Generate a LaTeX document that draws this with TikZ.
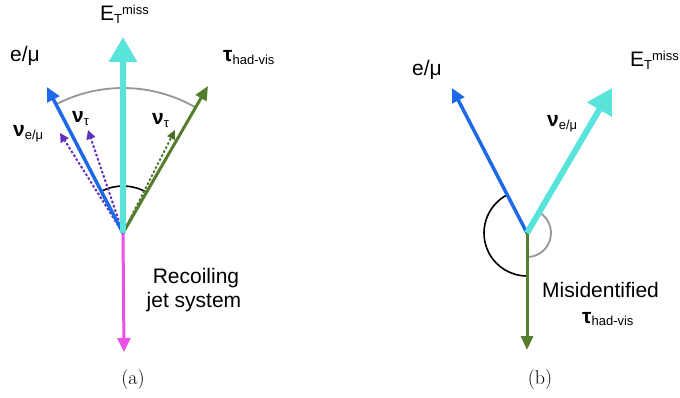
\documentclass[tikz,border=0pt]{standalone}
\usepackage{fontspec}
\newfontfamily\lsans{Liberation Sans}
\usetikzlibrary{arrows.meta}
\definecolor{vblue}{RGB}{30,105,230}
\definecolor{vgreen}{RGB}{85,125,45}
\definecolor{vcyan}{RGB}{88,228,218}
\definecolor{vpink}{RGB}{235,80,232}
\definecolor{vpurple}{RGB}{95,50,190}
\definecolor{vdgreen}{RGB}{70,110,40}
\definecolor{vgray}{RGB}{150,150,150}
\newcommand\lsub[1]{\raisebox{-2.5pt}{\fontsize{13}{13}\selectfont #1}}
\newcommand\lsup[1]{\raisebox{6.5pt}{\fontsize{13}{13}\selectfont #1}}
\newcommand\bnu{{\bfseries ν}}
\newcommand\btau{{\bfseries τ}}
\tikzset{
  lbl/.style={font=\lsans\fontsize{21}{25}\selectfont, inner sep=0pt, anchor=base west},
  capstyle/.style={font=\fontsize{20}{24}\selectfont, inner sep=0pt},
  bluearr/.style={draw=vblue, line width=3.5pt, -{Triangle[length=14pt,width=13pt]}},
  greenarr/.style={draw=vgreen, line width=3pt, -{Triangle[length=14pt,width=12pt]}},
  cyanarr/.style={draw=vcyan, line width=6pt, -{Triangle[length=25pt,width=27pt]}},
  pinkarr/.style={draw=vpink, line width=3pt, -{Triangle[length=14pt,width=13pt]}},
  nuarr/.style={draw=vpurple, line width=2pt, dash pattern=on 2.5pt off 2pt, -{Triangle[length=9pt,width=9pt]}},
  nutarr/.style={draw=vdgreen, line width=1.8pt, dash pattern=on 2.5pt off 2pt, -{Triangle[length=9pt,width=8pt]}},
  grayarc/.style={draw=vgray, line width=1.8pt},
  blackarc/.style={draw=black, line width=1.6pt},
}
\begin{document}
\begin{tikzpicture}[x=1pt,y=1pt]
\useasboundingbox (0,0) rectangle (680,-398);
% ---------- panel (a) ----------
\coordinate (Oa) at (123,-233);
\coordinate (ea) at (47,-87);
\coordinate (ma) at (123,-37);
\coordinate (ta) at (208,-86);
\coordinate (ja) at (124,-352);
\coordinate (nea) at (60,-133);
\coordinate (nla) at (88,-130);
\coordinate (nra) at (175,-130);
\draw[grayarc] (Oa) ++(117.6:145) arc[start angle=117.6, end angle=59.8, radius=145];
\draw[blackarc] (Oa) ++(117.6:47) arc[start angle=117.6, end angle=59.8, radius=47];
\draw[nuarr] (Oa) -- (nea);
\draw[nuarr] (Oa) -- (nla);
\draw[nutarr] (Oa) -- (nra);
\draw[pinkarr] (Oa) -- (ja);
\draw[bluearr] (Oa) -- (ea);
\draw[greenarr] (Oa) -- (ta);
\draw[cyanarr] (Oa) -- (ma);
\node[lbl] (lea) at (10,-62) {e/μ};
\node[lbl] (lma) at (100,-21) {E\lsub{T}\lsup{miss}};
\node[lbl] (lta) at (223,-62) {\btau\lsub{had-vis}};
\node[lbl] (lnea) at (13,-137) {\bnu\lsub{e/μ}};
\node[lbl] (lnla) at (72,-123) {\bnu\lsub{τ}};
\node[lbl] (lnra) at (152,-125) {\bnu\lsub{τ}};
\node[lbl, anchor=base] (rec1) at (196,-283) {Recoiling};
\node[lbl, anchor=base] (rec2) at (194,-307) {jet system};
\node[capstyle] (capa) at (133,-380) {(a)};
% ---------- panel (b) ----------
\coordinate (Ob) at (527,-233);
\coordinate (eb) at (452,-88);
\coordinate (mb) at (612,-88);
\coordinate (tb) at (527,-350);
\draw[blackarc] (Ob) ++(117.3:43) arc[start angle=117.3, end angle=270, radius=43];
\draw[grayarc] (Ob) ++(59.6:24) arc[start angle=59.6, end angle=-90, radius=24];
\draw[greenarr] (Ob) -- (tb);
\draw[bluearr] (Ob) -- (eb);
\draw[cyanarr] (Ob) -- (mb);
\node[lbl] (leb) at (412,-76) {e/μ};
\node[lbl] (lmb) at (630,-67) {E\lsub{T}\lsup{miss}};
\node[lbl] (lneb) at (547,-127) {\bnu\lsub{e/μ}};
\node[lbl] (mis) at (542,-297) {Misidentified};
\node[lbl] (ltb) at (582,-323) {\btau\lsub{had-vis}};
\node[capstyle] (capb) at (540,-380) {(b)};
\end{tikzpicture}
\end{document}
